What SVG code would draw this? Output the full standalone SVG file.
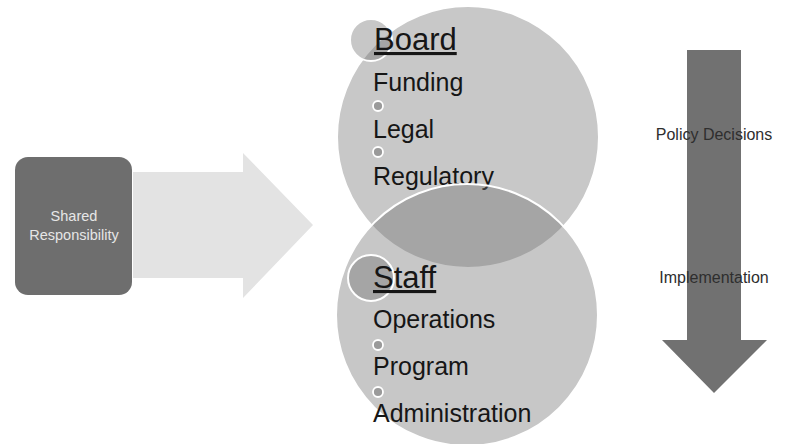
<svg xmlns="http://www.w3.org/2000/svg" width="786" height="444" viewBox="0 0 786 444">
<style>
.big{fill:#c8c8c8;stroke:#ffffff;stroke-width:2}
.ov{fill:#707070;fill-opacity:0.39;stroke:#ffffff;stroke-width:2}
.bul{fill:#9a9a9a;stroke:#ffffff;stroke-width:1.8}
.t{font-family:"Liberation Sans",Arial,sans-serif;fill:#161616}
.h{font-size:31px}
.i{font-size:25px}
.s{font-family:"Liberation Sans",Arial,sans-serif;font-size:16px;fill:#2e2e2e}
.w{font-family:"Liberation Sans",Arial,sans-serif;font-size:14.5px;fill:#e6e6e6}
</style>
<rect width="786" height="444" fill="#ffffff"/>
<g id="connectors">
<polygon id="arrow-right" points="133,172 243,172 243,153 313,225 243,298 243,278 133,278" fill="#e3e3e3"/>
<polygon id="arrow-down" points="687,50 741,50 741,340 767,340 714,393 662,340 687,340" fill="#717171"/>
</g>
<g id="shared">
<rect x="15" y="157" width="117" height="138" rx="13" fill="#6e6e6e"/>
<text class="w" x="74" y="221" text-anchor="middle">Shared</text>
<text class="w" x="74" y="240" text-anchor="middle">Responsibility</text>
</g>
<g id="board">
<circle class="big" cx="468" cy="137" r="131"/>
<circle class="ov" cx="371" cy="40" r="21"/>
<text class="t h" x="374" y="50" text-decoration="underline">Board</text>
<text class="t i" x="373" y="91">Funding</text>
<circle class="bul" cx="378" cy="106" r="5"/>
<text class="t i" x="373" y="138">Legal</text>
<circle class="bul" cx="378" cy="152" r="5"/>
<text class="t i" x="373" y="185">Regulatory</text>
</g>
<g id="staff">
<circle class="ov" cx="467" cy="315" r="131"/>
<circle class="ov" cx="371" cy="278" r="23"/>
<text class="t h" x="373" y="288" text-decoration="underline">Staff</text>
<text class="t i" x="373" y="328">Operations</text>
<circle class="bul" cx="378" cy="345" r="5"/>
<text class="t i" x="373" y="375">Program</text>
<circle class="bul" cx="378" cy="392" r="5"/>
<text class="t i" x="373" y="422">Administration</text>
</g>
<g id="labels">
<text class="s" x="714" y="140" text-anchor="middle">Policy Decisions</text>
<text class="s" x="714" y="283" text-anchor="middle">Implementation</text>
</g>
</svg>
